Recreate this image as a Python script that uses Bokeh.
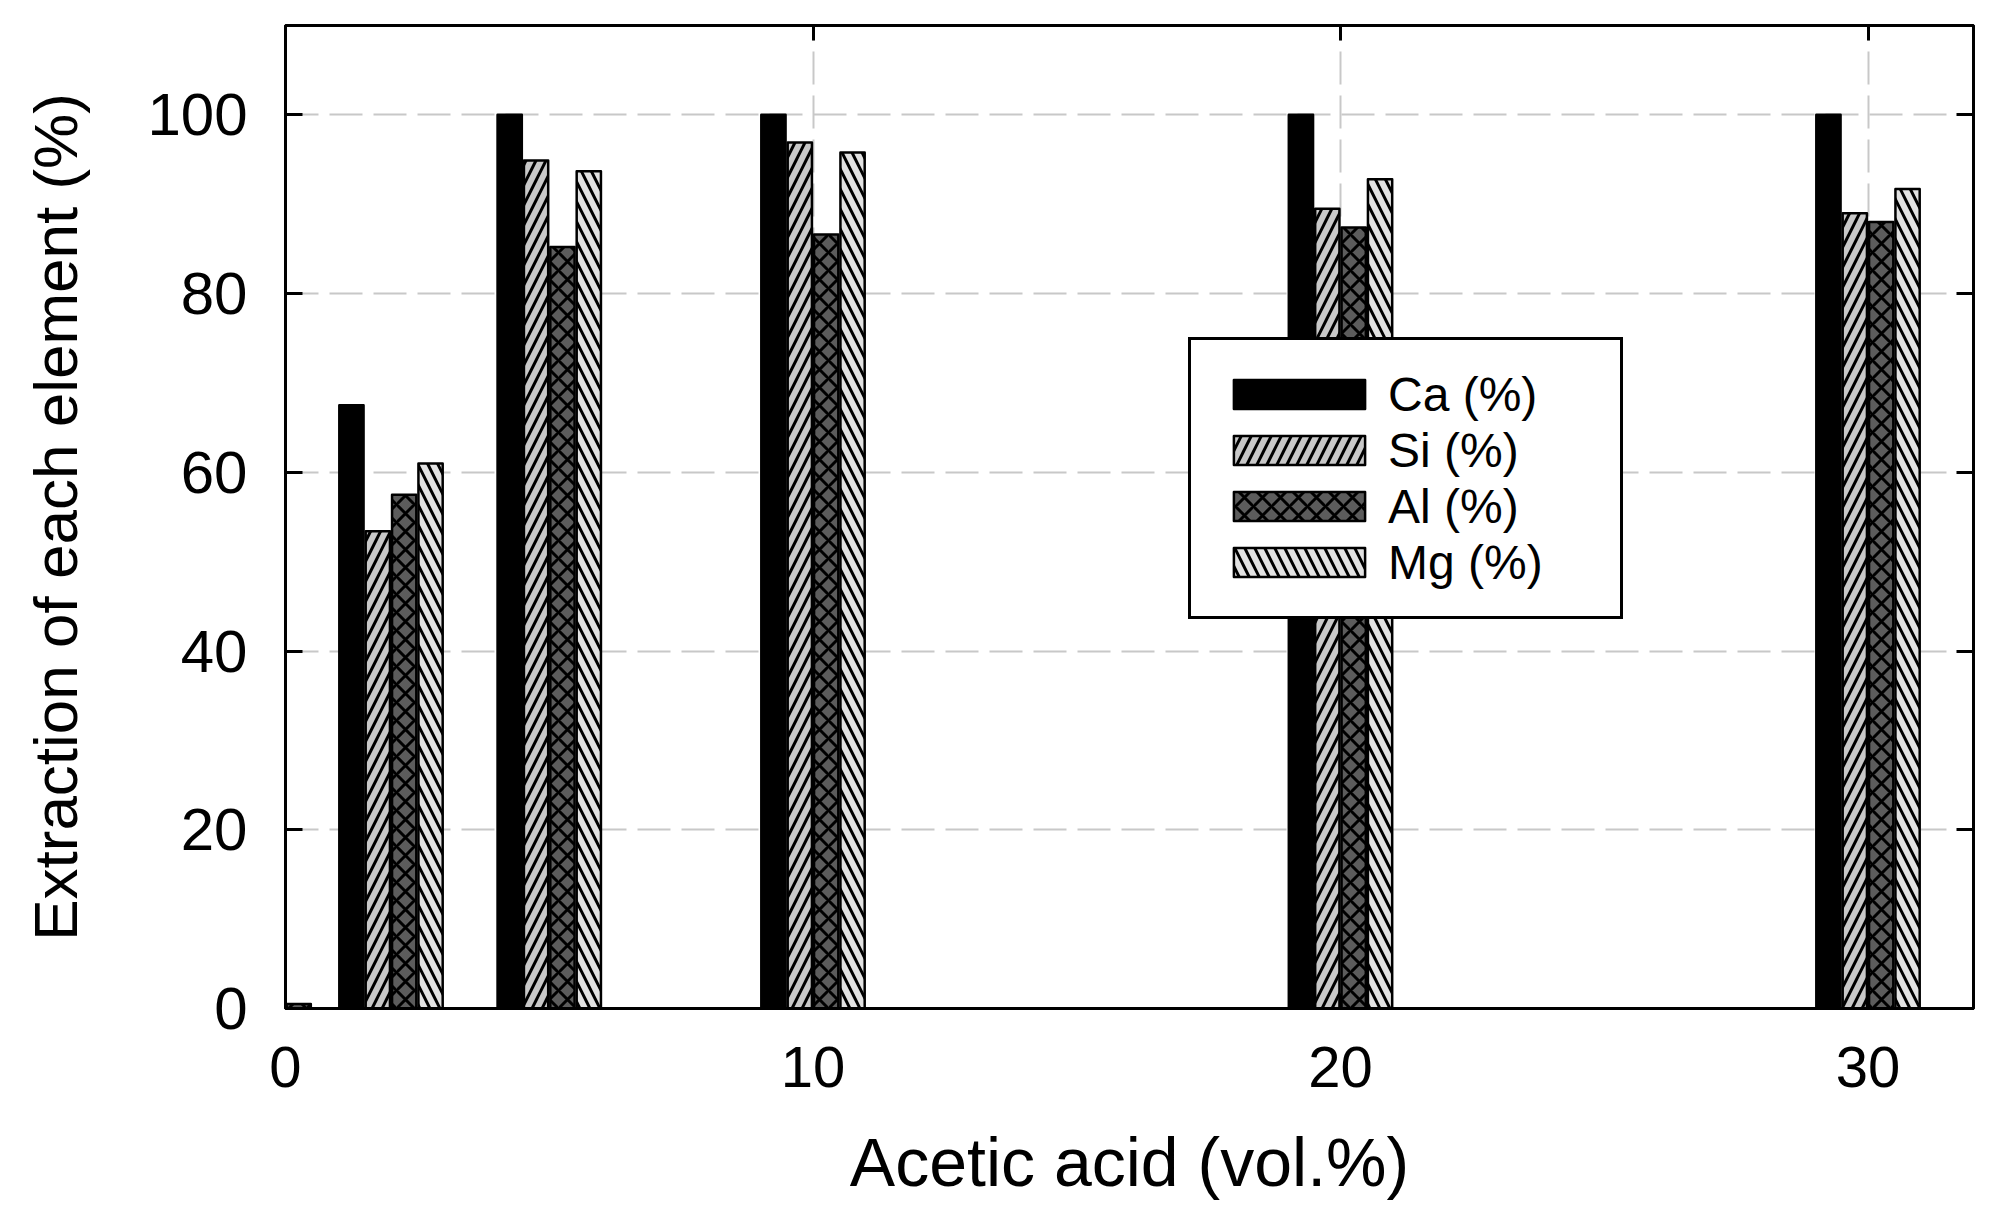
from bokeh.plotting import figure
from bokeh.models import Range1d, LinearAxis, Legend, LegendItem, ColumnDataSource
from bokeh.transform import dodge
from bokeh.embed import file_html
from bokeh.resources import INLINE

# ---- data ----
acid = [0, 2, 5, 10, 20, 30]
ca = [0.5, 67.5, 100.0, 100.0, 100.0, 100.0]
si = [0.5, 53.4, 94.9, 96.9, 89.5, 89.0]
al = [0.5, 57.5, 85.2, 86.6, 87.4, 88.0]
mg = [0.0, 61.0, 93.7, 95.8, 92.8, 91.7]
series_names = ["Ca (%)", "Si (%)", "Al (%)", "Mg (%)"]
x_ticks = [0, 10, 20, 30]
y_ticks = [0, 20, 40, 60, 80, 100]

FONT = "Liberation Sans"

src = ColumnDataSource(data=dict(acid=acid, ca=ca, si=si, al=al, mg=mg))

p = figure(width=1994, height=1207, output_backend="svg", toolbar_location=None,
           x_range=Range1d(0, 32), y_range=Range1d(0, 110),
           min_border_left=285, min_border_right=21, min_border_top=25,
           min_border_bottom=199)
p.background_fill_color = "white"
p.border_fill_color = "white"
p.outline_line_color = "black"
p.outline_line_width = 3

# grid
for g, t in ((p.xgrid[0], x_ticks), (p.ygrid[0], y_ticks)):
    g.ticker = t
    g.grid_line_color = "#c8c8c8"
    g.grid_line_width = 2
    g.grid_line_dash = "33 11"

def style_axis(ax, ticks, tick_len, size="58px", labels=True):
    ax.ticker = ticks
    ax.axis_line_color = "black"
    ax.axis_line_width = 3
    ax.major_tick_line_color = "black"
    ax.major_tick_line_width = 3
    ax.major_tick_in = tick_len
    ax.major_tick_out = 0
    ax.minor_tick_in = 0
    ax.minor_tick_out = 0
    ax.major_label_text_font = FONT
    ax.major_label_text_color = "black"
    ax.major_label_text_font_size = size
    if not labels:
        ax.major_label_overrides = {t: "" for t in ticks}
        ax.major_label_standoff = 0
        ax.axis_label_standoff = 0

xb = p.xaxis[0]
style_axis(xb, x_ticks, 15, "58px")
xb.major_label_standoff = 38
xb.axis_label = "Acetic acid (vol.%)"
xb.axis_label_text_font = FONT
xb.axis_label_text_font_size = "68px"
xb.axis_label_text_font_style = "normal"
xb.axis_label_text_color = "black"
xb.axis_label_standoff = 34

yl = p.yaxis[0]
style_axis(yl, y_ticks, 17, "60px")
yl.major_label_standoff = 38
yl.axis_label = "Extraction of each element (%)"
yl.axis_label_text_font = FONT
yl.axis_label_text_font_size = "62px"
yl.axis_label_text_font_style = "normal"
yl.axis_label_text_color = "black"
yl.axis_label_standoff = 54

xt = LinearAxis()
style_axis(xt, x_ticks, 15, "10px", labels=False)
p.add_layout(xt, "above")

yr = LinearAxis()
style_axis(yr, y_ticks, 17, "10px", labels=False)
p.add_layout(yr, "right")

# bars
bw = 0.46
styles = [
    dict(col="ca", off=-0.75, fill="black", hatch=None, scale=12),
    dict(col="si", off=-0.25, fill="#c8c8c8", hatch="/", scale=20),
    dict(col="al", off=0.25, fill="#5c5c5c", hatch="x", scale=18),
    dict(col="mg", off=0.75, fill="#e2e2e2", hatch="\\", scale=20),
]
renderers = []
for st in styles:
    kw = dict(x=dodge("acid", st["off"], range=p.x_range), top=st["col"], width=bw,
              source=src, fill_color=st["fill"], line_color="black", line_width=2.5,
              line_join="round")
    if st["hatch"]:
        kw.update(hatch_pattern=st["hatch"], hatch_color="black",
                  hatch_scale=st["scale"], hatch_weight=3)
    renderers.append(p.vbar(**kw))

legend = Legend(items=[LegendItem(label=n, renderers=[r]) for n, r in zip(series_names, renderers)],
                location=(903, 389))
legend.border_line_color = "black"
legend.border_line_alpha = 1.0
legend.border_line_width = 3
legend.background_fill_color = "white"
legend.background_fill_alpha = 1.0
legend.padding = 26
legend.spacing = 0
legend.margin = 0
legend.glyph_width = 164
legend.glyph_height = 36
legend.label_height = 56
legend.label_width = 206
legend.label_standoff = 7
legend.label_text_font = FONT
legend.label_text_font_size = "48px"
legend.label_text_color = "black"
p.add_layout(legend)

open("out.html", "w").write(file_html(p, INLINE))
